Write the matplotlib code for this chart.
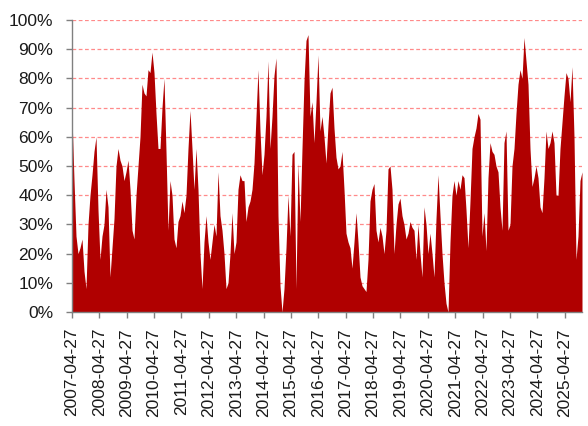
import matplotlib
matplotlib.use("Agg")
import matplotlib.pyplot as plt
import pandas as pd
import numpy as np

# ---- data (percent), evenly spaced from 2007-04-27 to 2025-12-15 ----
seg_2007_2010 = [67,45,26,20,22,25,14,8,30,40,47,55,60,35,18,26,30,42,36,12,
                 22,32,50,56,52,50,45,48,52,42,28,25,40,50,60,78,75,74,83,82,
                 89,82,68]
seg_2010_2013 = [56,56,70,80,55,28,45,40,25,22,31,33,38,34,40,56,69,56,42,56,
                 42,20,8,24,33,24,18,24,30,26,48,33,28,20,8,10,20,34,20,24,
                 42,47,45]
seg_2013_2016 = [45,31,36,38,42,51,67,83,62,47,54,67,86,56,67,81,87,33,9,0,
                 8,22,40,26,54,55,8,51,31,56,79,93,95,67,72,58,72,88,62,67,
                 60,51]
seg_2016_2019 = [64,75,77,63,53,49,50,55,42,27,24,22,15,24,34,24,12,9,8,7,
                 18,38,42,44,28,24,29,26,20,28,49,50,42,20,30,37,39,33,30,25,
                 27,31,29]
seg_2019_2022 = [28,18,30,20,12,36,30,20,27,20,12,32,47,33,20,10,3,0,24,40,
                 45,40,45,42,47,46,35,22,38,56,60,63,68,66,26,34,21,46,58,55,
                 54,50]
seg_2022_2025 = [48,36,28,58,62,28,30,50,56,68,78,83,80,94,86,78,56,43,46,50,
                 46,36,34,46,62,56,58,62,58,40,40,56,65,74,82,80,72,84,60,18,
                 26,45,48]

values = (seg_2007_2010 + seg_2013_2016[:0] + seg_2010_2013 + seg_2013_2016
          + seg_2016_2019 + seg_2019_2022 + seg_2022_2025)
start_date = "2007-04-27"
end_date = "2025-12-15"
dates = pd.date_range(start_date, end_date, periods=len(values))

tick_labels = [f"{y}-04-27" for y in range(2007, 2026)]
y_ticks = list(range(0, 101, 10))
y_labels = [f"{v}%" for v in y_ticks]

# ---- figure ----
plt.rcParams['font.family'] = ['Liberation Sans', 'DejaVu Sans']
fig = plt.figure(figsize=(5.88, 4.26), dpi=100)
ax = fig.add_axes([72/588, 1-312/426, (582-72)/588, (312-20)/426])

ax.fill_between(dates, values, 0, color='#B00000', lw=0, zorder=3)

ax.set_ylim(0, 100)
ax.set_xlim(pd.Timestamp(start_date), pd.Timestamp(end_date))
ax.set_yticks(y_ticks)
ax.set_yticklabels(y_labels)
ax.set_xticks(pd.to_datetime(tick_labels))
ax.set_xticklabels(tick_labels, rotation=90)

ax.yaxis.grid(True, color='#FF8A8A', linestyle=(0, (3, 2)), lw=0.9, zorder=1)
ax.set_axisbelow(True)

for s in ['top', 'right']:
    ax.spines[s].set_visible(False)
for s in ['left', 'bottom']:
    ax.spines[s].set_color('#808080')
    ax.spines[s].set_linewidth(1.0)
    ax.spines[s].set_zorder(4)

ax.tick_params(axis='both', direction='out', length=4.5, width=1.0,
               color='#808080', labelsize=12.5, labelcolor='#1a1a1a')
ax.tick_params(axis='y', pad=9)
ax.tick_params(axis='x', pad=7)

fig.savefig("out.png", dpi=100)
